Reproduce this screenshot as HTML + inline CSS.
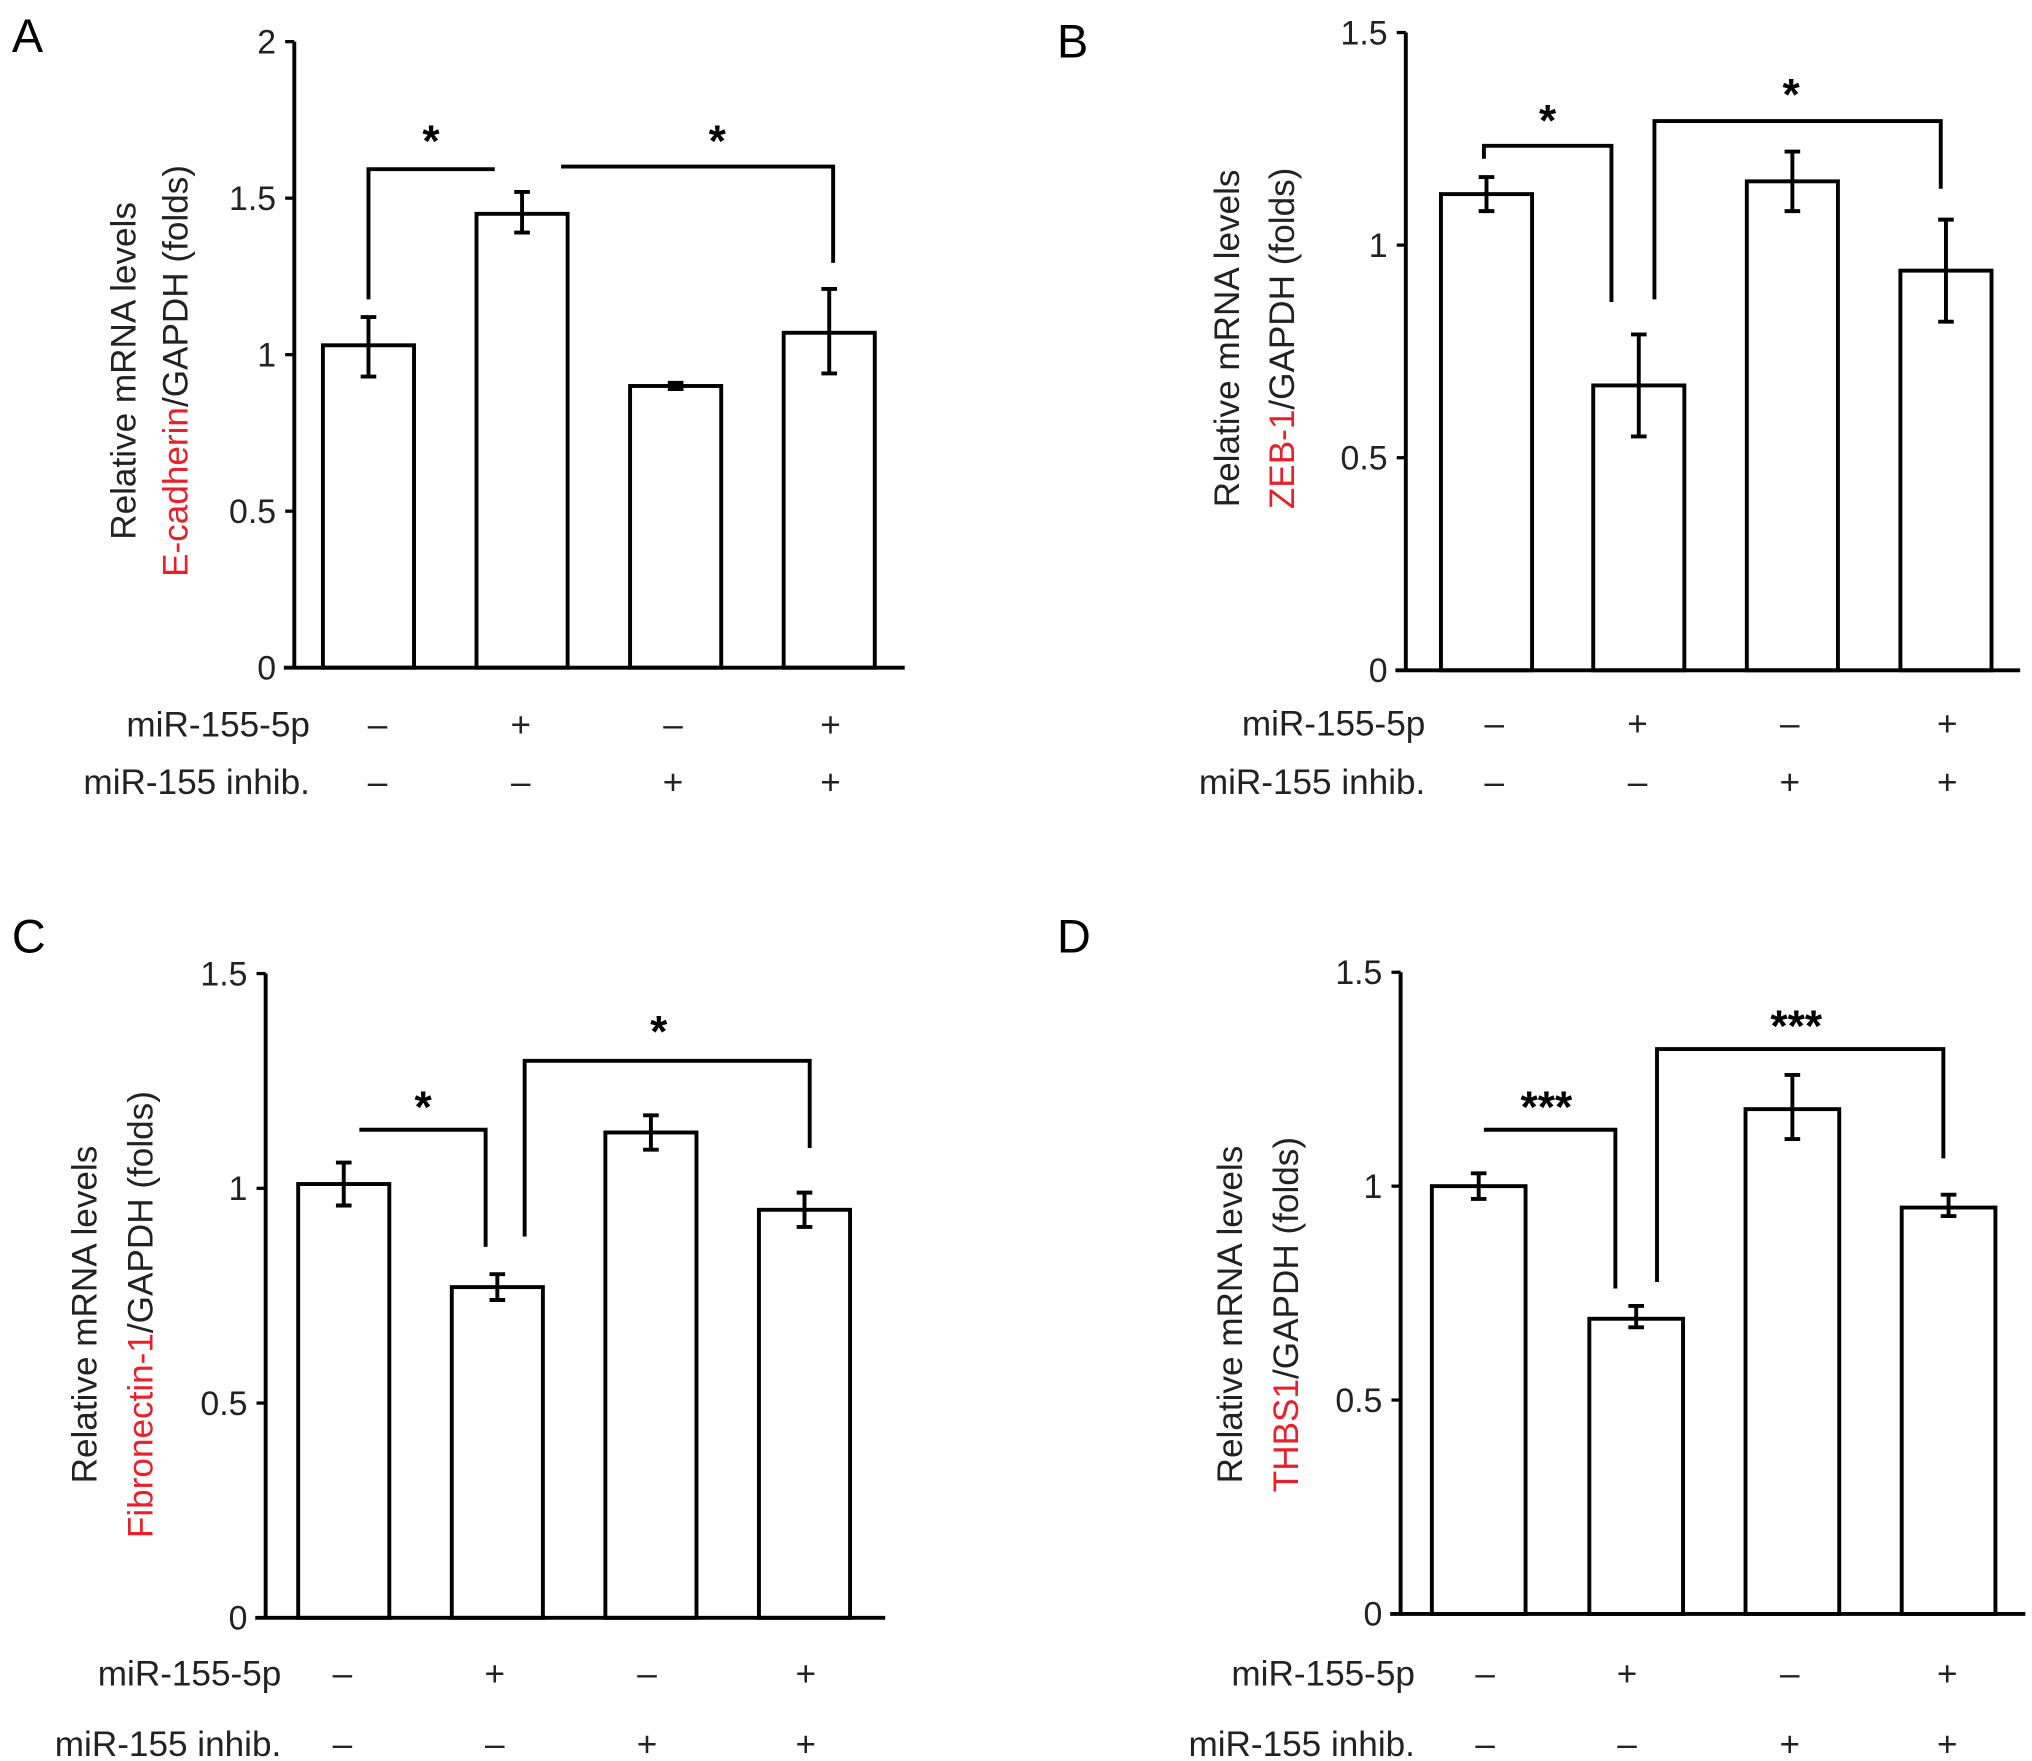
<!DOCTYPE html>
<html><head><meta charset="utf-8"><title>mRNA levels</title>
<style>
html,body{margin:0;padding:0;background:#fff;}
svg{display:block;font-family:"Liberation Sans",Arial,sans-serif;}
</style></head>
<body>
<svg id="fig" width="2032" height="1761" viewBox="0 0 1561 1353" xmlns="http://www.w3.org/2000/svg"></svg>
<script>
// ---- Data ----
const categories = ["ctrl", "miR-155-5p", "inhib", "miR-155-5p + inhib"];
const row1Symbols = ["\u2013", "+", "\u2013", "+"];
const row2Symbols = ["\u2013", "\u2013", "+", "+"];

const valuesA = [1.03, 1.45, 0.90, 1.07];
const errLoA = [0.93, 1.39, 0.89, 0.94];
const errHiA = [1.12, 1.52, 0.91, 1.21];
const ticksA = [0, 0.5, 1, 1.5, 2];
const tickLabelsA = ["0", "0.5", "1", "1.5", "2"];

const valuesB = [1.12, 0.67, 1.15, 0.94];
const errLoB = [1.08, 0.55, 1.08, 0.82];
const errHiB = [1.16, 0.79, 1.22, 1.06];
const ticksB = [0, 0.5, 1, 1.5];
const tickLabelsB = ["0", "0.5", "1", "1.5"];

const valuesC = [1.01, 0.77, 1.13, 0.95];
const errLoC = [0.96, 0.74, 1.09, 0.91];
const errHiC = [1.06, 0.80, 1.17, 0.99];
const ticksC = [0, 0.5, 1, 1.5];
const tickLabelsC = ["0", "0.5", "1", "1.5"];

const valuesD = [1.00, 0.69, 1.18, 0.95];
const errLoD = [0.97, 0.67, 1.11, 0.93];
const errHiD = [1.03, 0.72, 1.26, 0.98];
const ticksD = [0, 0.5, 1, 1.5];
const tickLabelsD = ["0", "0.5", "1", "1.5"];

const NS = "http://www.w3.org/2000/svg";
const svg = document.getElementById("fig");
function mk(tag, attrs, parent) {
  const e = document.createElementNS(NS, tag);
  for (const k in attrs) e.setAttribute(k, attrs[k]);
  (parent || svg).appendChild(e);
  return e;
}

const panels = [
  {id:"a", letter:"A", lx:9, ly:40, vals:valuesA, lo:errLoA, hi:errHiA, ticks:ticksA, tl:tickLabelsA, ymax:2,
   ax:226, yTop:32, y0:513, xEnd:695, barX:[248,366,484,602], bw:70, gene:"E-cadherin", tx1:95, tx2:135, tcy:285,
   rowR:238, r1y:557, r2y:601, symX:[290,400,517,638],
   br1:{x1:283,x2:380,yTop:130,yL:230,yR:130,sx:331,sy:120,s:"*"},
   br2:{x1:431,x2:640,yTop:128,yL:128,yR:202,sx:551,sy:120,s:"*"}},
  {id:"b", letter:"B", lx:812, ly:44, vals:valuesB, lo:errLoB, hi:errHiB, ticks:ticksB, tl:tickLabelsB, ymax:1.5,
   ax:1080, yTop:25, y0:515, xEnd:1552, barX:[1107,1224,1342,1460], bw:70, gene:"ZEB-1", tx1:943, tx2:985, tcy:260,
   rowR:1095, r1y:556, r2y:601, symX:[1148,1258,1375,1496],
   br1:{x1:1140,x2:1238,yTop:112,yL:122,yR:232,sx:1189,sy:104,s:"*"},
   br2:{x1:1271,x2:1491,yTop:93,yL:230,yR:145,sx:1376,sy:84,s:"*"}},
  {id:"c", letter:"C", lx:9, ly:732, vals:valuesC, lo:errLoC, hi:errHiC, ticks:ticksC, tl:tickLabelsC, ymax:1.5,
   ax:204, yTop:748, y0:1243, xEnd:680, barX:[229,347,465,583], bw:70, gene:"Fibronectin-1", tx1:65, tx2:108, tcy:1010,
   rowR:216, r1y:1286, r2y:1340, symX:[263,380,497,619],
   br1:{x1:276,x2:373,yTop:868,yL:868,yR:958,sx:325,sy:862,s:"*"},
   br2:{x1:403,x2:622,yTop:815,yL:950,yR:882,sx:506,sy:804,s:"*"}},
  {id:"d", letter:"D", lx:812, ly:732, vals:valuesD, lo:errLoD, hi:errHiD, ticks:ticksD, tl:tickLabelsD, ymax:1.5,
   ax:1076, yTop:747, y0:1240, xEnd:1556, barX:[1100,1221,1341,1461], bw:72, gene:"THBS1", tx1:945, tx2:988, tcy:1010,
   rowR:1087, r1y:1286, r2y:1340, symX:[1141,1250,1375,1496],
   br1:{x1:1140,x2:1241,yTop:868,yL:868,yR:990,sx:1188,sy:862,s:"***"},
   br2:{x1:1273,x2:1493,yTop:806,yL:985,yR:890,sx:1380,sy:800,s:"***"}}
];

panels.forEach(p => {
  const g = mk("g", {});
  
  
  const yS = v => p.y0 - (v / p.ymax) * (p.y0 - p.yTop);

  const L = mk("text", {x:p.lx, y:p.ly, "font-size":36}, g);
  
  
  L.textContent = p.letter;

  p.vals.forEach((v, i) => {
    const b = mk("rect", {x:p.barX[i], y:yS(v), width:p.bw, height:p.y0 - yS(v), fill:"#fff", stroke:"#000", "stroke-width":3}, g);
    
    
    const cx = p.barX[i] + p.bw / 2;
    const eb = mk("path", {d:`M${cx-6},${yS(p.hi[i])}H${cx+6}M${cx},${yS(p.hi[i])}V${yS(p.lo[i])}M${cx-6},${yS(p.lo[i])}H${cx+6}`, stroke:"#000", "stroke-width":3, fill:"none"}, g);
    
    
  });

  const ya = mk("path", {d:`M${p.ax},${p.yTop}V${p.y0}`, stroke:"#000", "stroke-width":3}, g);
  
  
  const xa = mk("path", {d:`M${p.ax-8},${p.y0}H${p.xEnd}`, stroke:"#000", "stroke-width":3}, g);
  
  

  p.ticks.forEach((t, i) => {
    const y = yS(t);
    if (t > 0) mk("path", {d:`M${p.ax-7},${y}H${p.ax}`, stroke:"#000", "stroke-width":2.5}, g);
    const tt = mk("text", {x:p.ax - 14, y:y + 9, "font-size":26, "text-anchor":"end", fill:"#222"}, g);
    
    
    tt.textContent = p.tl[i];
  });

  const t1 = mk("text", {x:0, y:0, "font-size":27, "text-anchor":"middle", fill:"#222", transform:`translate(${p.tx1 + 9},${p.tcy}) rotate(-90)`}, g);
  
  
  t1.textContent = "Relative mRNA levels";
  const t2 = mk("text", {x:0, y:0, "font-size":27, "text-anchor":"middle", fill:"#222", transform:`translate(${p.tx2 + 9},${p.tcy}) rotate(-90)`}, g);
  
  
  const ts = mk("tspan", {fill:"#e8202a"}, t2);
  ts.textContent = p.gene;
  const ts2 = mk("tspan", {}, t2);
  ts2.textContent = "/GAPDH (folds)";

  [p.br1, p.br2].forEach((br, k) => {
    const pa = mk("path", {d:`M${br.x1},${br.yL}V${br.yTop}H${br.x2}V${br.yR}`, stroke:"#000", "stroke-width":3, fill:"none"}, g);
    
    
    const st = mk("text", {x:br.sx, y:br.sy, "font-size":34, "font-weight":"bold", "text-anchor":"middle"}, g);
    
    
    st.textContent = br.s;
  });

  const r1 = mk("text", {x:p.rowR, y:p.r1y + 9, "font-size":27, "text-anchor":"end", fill:"#222"}, g);
  
  
  r1.textContent = "miR-155-5p";
  const r2 = mk("text", {x:p.rowR, y:p.r2y + 9, "font-size":27, "text-anchor":"end", fill:"#222"}, g);
  
  
  r2.textContent = "miR-155 inhib.";
  categories.forEach((c, i) => {
    const s1 = mk("text", {x:p.symX[i], y:p.r1y + 9, "font-size":27, "text-anchor":"middle", fill:"#222"}, g);
    
    
    s1.textContent = row1Symbols[i];
    const s2 = mk("text", {x:p.symX[i], y:p.r2y + 9, "font-size":27, "text-anchor":"middle", fill:"#222"}, g);
    
    
    s2.textContent = row2Symbols[i];
  });
});
</script>
</body></html>
